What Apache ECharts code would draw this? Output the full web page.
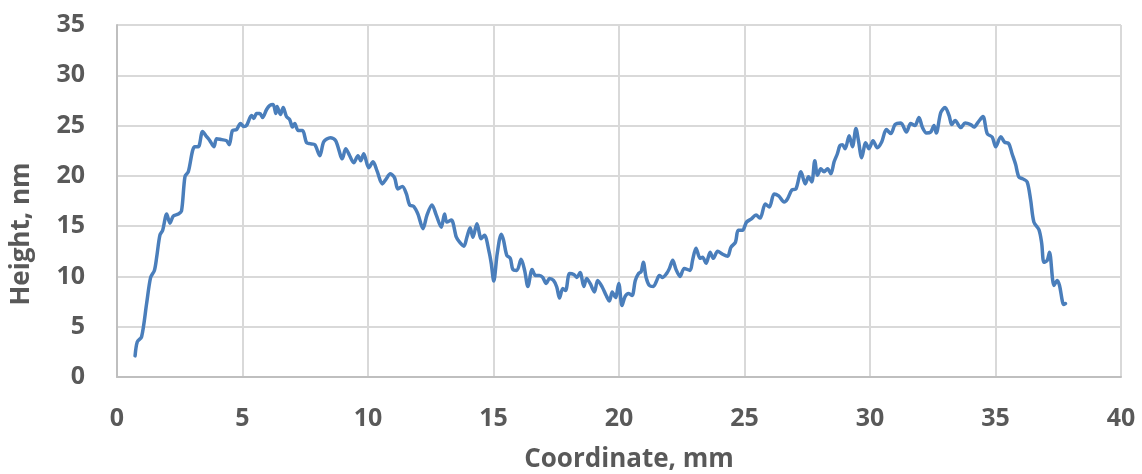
<!DOCTYPE html>
<html>
<head>
<meta charset="utf-8">
<script src="https://cdn.jsdelivr.net/npm/echarts@6/dist/echarts.min.js"></script>
<style>
  html, body { margin: 0; padding: 0; background: #ffffff; }
  #chart { width: 1142px; height: 474px; }
</style>
</head>
<body>
<div id="chart"></div>
<script>
// Surface profile: coordinate along the scan (mm) and measured height (nm)
const coordinate = [
  0.72, 0.81, 0.98, 1.18, 1.34, 1.49, 1.58, 1.71, 1.82, 1.98,
  2.11, 2.24, 2.44, 2.57, 2.71, 2.84, 3.01, 3.10, 3.24, 3.41,
  3.57, 3.70, 3.86, 3.97, 4.17, 4.36, 4.47, 4.60, 4.76, 4.92,
  5.05, 5.16, 5.36, 5.45, 5.56, 5.69, 5.80, 5.96, 6.09, 6.22,
  6.33, 6.38, 6.51, 6.62, 6.75, 6.88, 6.99, 7.08, 7.22, 7.39,
  7.55, 7.68, 7.88, 8.08, 8.24, 8.50, 8.71, 8.98, 9.11, 9.27,
  9.43, 9.60, 9.71, 9.83, 10.03, 10.20, 10.36, 10.57, 10.70, 10.89,
  11.06, 11.19, 11.37, 11.53, 11.66, 11.82, 11.99, 12.19, 12.35, 12.55,
  12.72, 12.92, 13.05, 13.14, 13.32, 13.52, 13.65, 13.82, 13.94, 14.07,
  14.18, 14.34, 14.51, 14.64, 14.82, 14.91, 15.01, 15.15, 15.31, 15.40,
  15.53, 15.67, 15.77, 15.93, 16.10, 16.24, 16.37, 16.54, 16.67, 16.83,
  16.96, 17.10, 17.23, 17.39, 17.52, 17.63, 17.76, 17.87, 18.03, 18.20,
  18.32, 18.45, 18.60, 18.71, 18.85, 19.02, 19.15, 19.33, 19.49, 19.62,
  19.73, 19.86, 19.99, 20.12, 20.24, 20.39, 20.52, 20.65, 20.78, 20.88,
  20.97, 21.08, 21.21, 21.37, 21.48, 21.61, 21.74, 21.90, 22.01, 22.14,
  22.27, 22.43, 22.60, 22.83, 22.93, 23.07, 23.23, 23.33, 23.47, 23.63,
  23.76, 23.93, 24.13, 24.33, 24.46, 24.64, 24.75, 24.92, 25.08, 25.26,
  25.46, 25.62, 25.83, 25.99, 26.18, 26.36, 26.58, 26.71, 26.89, 27.05,
  27.25, 27.42, 27.55, 27.68, 27.80, 27.91, 28.04, 28.17, 28.31, 28.44,
  28.57, 28.70, 28.80, 28.90, 29.01, 29.17, 29.30, 29.44, 29.54, 29.67,
  29.83, 29.96, 30.12, 30.29, 30.47, 30.65, 30.83, 31.00, 31.23, 31.45,
  31.62, 31.79, 31.95, 32.09, 32.25, 32.42, 32.55, 32.64, 32.82, 32.99,
  33.15, 33.26, 33.39, 33.62, 33.79, 34.01, 34.14, 34.31, 34.50, 34.67,
  34.87, 35.01, 35.21, 35.36, 35.53, 35.66, 35.80, 35.93, 36.09, 36.26,
  36.40, 36.53, 36.73, 36.84, 36.93, 37.06, 37.15, 37.33, 37.46, 37.55,
  37.72, 37.79
];

const height = [
  2.1, 3.5, 4.0, 7.3, 9.9, 10.6, 11.9, 14.1, 14.6, 16.2,
  15.3, 16.0, 16.2, 16.5, 19.95, 20.4, 22.5, 22.9, 22.9, 24.4,
  23.9, 23.5, 22.9, 23.7, 23.6, 23.5, 23.1, 24.5, 24.6, 25.2,
  24.9, 25.0, 26.0, 25.7, 26.2, 26.2, 25.8, 26.6, 27.0, 27.1,
  26.2, 26.9, 26.1, 26.8, 25.9, 25.6, 24.85, 25.2, 24.5, 24.5,
  23.3, 23.2, 23.1, 22.0, 23.4, 23.8, 23.5, 21.7, 22.7, 22.0,
  21.3, 22.0, 21.5, 22.2, 20.8, 21.4, 20.5, 19.2, 19.6, 20.2,
  19.8, 18.7, 18.95, 18.2, 17.1, 16.97, 16.2, 14.75, 16.1, 17.1,
  16.1, 14.9, 16.2, 15.4, 15.6, 13.9, 13.4, 13.0, 13.9, 14.85,
  13.9, 15.25, 13.75, 14.1, 12.5, 11.3, 9.55, 12.3, 14.2, 13.6,
  12.1, 11.8, 10.7, 10.6, 11.7, 10.6, 9.0, 10.7, 10.1, 10.1,
  9.9, 9.3, 9.8, 9.6, 8.95, 7.85, 8.8, 8.6, 10.3, 10.2,
  9.9, 10.4, 9.0, 9.8, 9.3, 8.45, 9.6, 8.95, 8.1, 7.55,
  8.45, 7.9, 9.3, 7.1, 8.0, 8.3, 8.1, 9.6, 10.3, 10.45,
  11.4, 9.9, 9.1, 9.0, 9.45, 10.1, 9.9, 10.3, 10.8, 11.6,
  10.7, 10.0, 10.8, 10.6, 11.6, 12.8, 11.8, 11.9, 11.3, 12.4,
  11.8, 12.5, 12.2, 12.0, 12.9, 13.4, 14.6, 14.6, 15.4, 15.7,
  16.1, 15.8, 17.2, 16.9, 18.2, 18.0, 17.4, 17.7, 18.6, 18.7,
  20.4, 19.2, 19.9, 19.4, 21.5, 20.05, 20.7, 20.4, 20.7, 20.2,
  21.4, 22.2, 23.0, 23.1, 22.7, 24.0, 22.9, 24.7, 23.5, 21.8,
  23.3, 22.7, 23.5, 22.8, 23.4, 24.6, 24.2, 25.1, 25.25, 24.35,
  25.2, 25.0, 25.8, 24.8, 24.25, 24.35, 25.0, 24.25, 26.3, 26.8,
  26.0, 25.1, 25.5, 24.8, 25.25, 25.1, 24.85, 25.35, 25.9, 24.2,
  23.85, 22.9, 23.9, 23.35, 23.2, 22.2, 21.15, 19.9, 19.7, 19.4,
  17.6, 15.4, 14.65, 13.3, 11.4, 11.6, 12.4, 9.1, 9.6, 9.1,
  7.2, 7.3
];

// Axis ranges and tick spacing
const xTicks = { min: 0, max: 40, interval: 5 };
const yTicks = { min: 0, max: 35, interval: 5 };
const xTitle = 'Coordinate, mm';
const yTitle = 'Height, nm';

const profile = coordinate.map((x, i) => [x, height[i]]);

const textColor = '#595959';
const fontFamily = '"Open Sans", "Liberation Sans", sans-serif';

const chart = echarts.init(document.getElementById('chart'), null, { renderer: 'canvas' });

chart.setOption({
  animation: false,
  backgroundColor: '#ffffff',
  grid: {
    left: 117, right: 21, top: 25, bottom: 97,
    containLabel: false,
    outerBoundsMode: 'none'
  },
  xAxis: {
    type: 'value',
    min: xTicks.min,
    max: xTicks.max,
    interval: xTicks.interval,
    name: xTitle,
    nameLocation: 'middle',
    nameGap: 70,
    nameTextStyle: {
      color: textColor, fontSize: 26, fontWeight: 'bold', fontFamily: fontFamily,
      padding: [0, 0, 0, 20]
    },
    axisLine: { show: true, lineStyle: { color: '#bfbfbf', width: 2 } },
    axisTick: { show: false },
    axisLabel: { color: textColor, fontSize: 25, fontWeight: 'bold', fontFamily: fontFamily, margin: 29 },
    splitLine: { show: true, lineStyle: { color: '#d9d9d9', width: 2 } }
  },
  yAxis: {
    type: 'value',
    min: yTicks.min,
    max: yTicks.max,
    interval: yTicks.interval,
    name: yTitle,
    nameLocation: 'middle',
    nameRotate: 90,
    nameGap: 82,
    nameTextStyle: {
      color: textColor, fontSize: 26, fontWeight: 'bold', fontFamily: fontFamily,
      padding: [0, 66, 0, 0]
    },
    axisLine: { show: true, lineStyle: { color: '#bfbfbf', width: 2 } },
    axisTick: { show: false },
    axisLabel: { color: textColor, fontSize: 25, fontWeight: 'bold', fontFamily: fontFamily, margin: 32 },
    splitLine: { show: true, lineStyle: { color: '#d9d9d9', width: 2 } }
  },
  series: [{
    type: 'line',
    data: profile,
    smooth: 0.3,
    showSymbol: false,
    lineStyle: { color: '#4a7ebb', width: 3.5, cap: 'round', join: 'round' },
    itemStyle: { color: '#4a7ebb' }
  }]
});
</script>
</body>
</html>
